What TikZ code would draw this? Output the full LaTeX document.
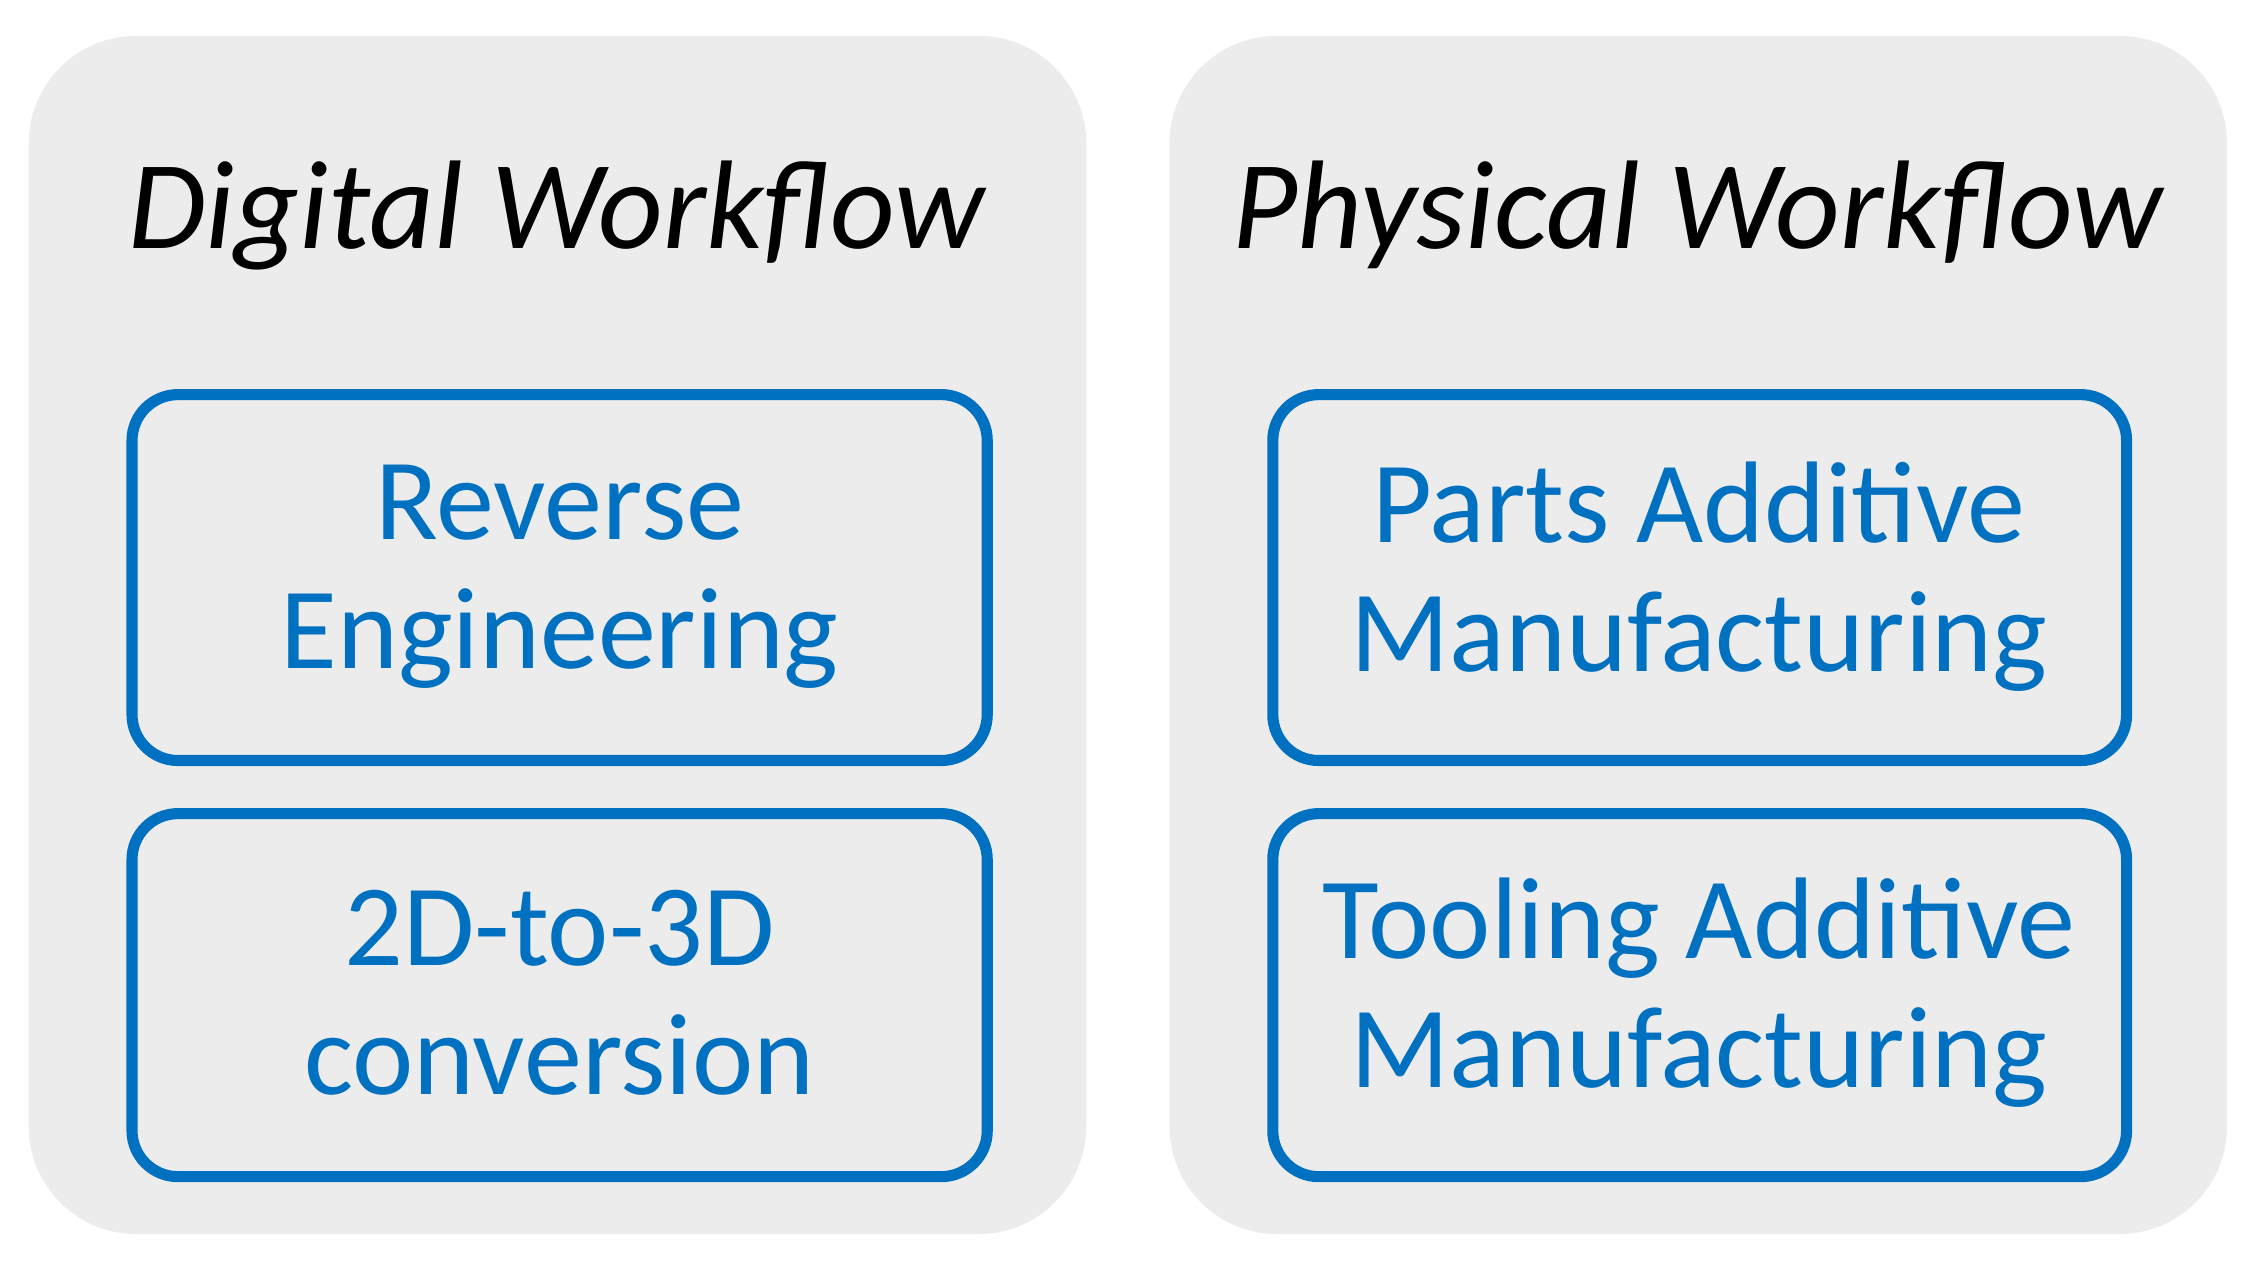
\documentclass[tikz,border=0pt]{standalone}
\usepackage{fontspec}
\setmainfont{Carlito}
\definecolor{panel}{RGB}{236,236,236}
\definecolor{blu}{RGB}{0,112,192}
\begin{document}
\begin{tikzpicture}[x=0.01cm,y=-0.01cm,
  panel/.style={fill=panel,draw=none,rounded corners=0.75cm},
  box/.style={draw=blu,line width=2.2pt,rounded corners=0.32cm,fill=panel},
  btxt/.style={text=blu,font=\fontsize{23}{25.6}\selectfont,align=center},
  title/.style={font=\fontsize{25}{30}\selectfont\itshape}]
\useasboundingbox (0,0) rectangle (1568,885);
\fill[white] (0,0) rectangle (1568,885);
\path[panel] (20,25) rectangle (757,860);
\path[panel] (815,25) rectangle (1552,860);
\node[title] (t1) at (388,150) {Digital Workflow};
\node[title] (t2) at (1183,150) {Physical Workflow};
\draw[box] (92,275) rectangle (688,530);
\draw[box] (92,567) rectangle (688,820);
\draw[box] (887,275) rectangle (1482,530);
\draw[box] (887,567) rectangle (1482,820);
\node[btxt] (a) at (390,402) {Reverse\\Engineering};
\node[btxt] (b) at (390,692) {2D-to-3D\\conversion};
\node[btxt] (c) at (1184,402) {Parts Additive\\Manufacturing};
\node[btxt] (d) at (1184,692) {Tooling Additive\\Manufacturing};
\end{tikzpicture}
\end{document}
